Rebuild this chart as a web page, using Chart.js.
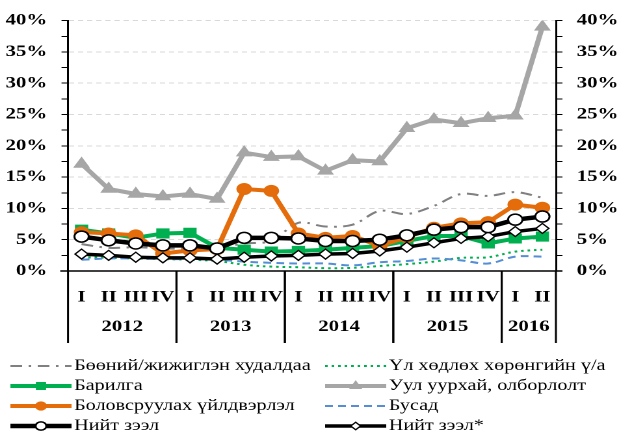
<!DOCTYPE html>
<html>
<head>
<meta charset="utf-8">
<script src="https://cdn.jsdelivr.net/npm/chart.js"></script>
<style>
  html, body { margin: 0; padding: 0; background: #fff; overflow: hidden; }
  /* the reference is stretched sideways, so the chart is drawn narrower and scaled */
  #wrap { width: 476px; height: 435px; transform: scaleX(1.3004); transform-origin: 0 0; }
</style>
</head>
<body>
<div id="wrap"><canvas id="chart"></canvas></div>
<script>
// Улирал, он
const quarters = ["I", "II", "III", "IV", "I", "II", "III", "IV", "I", "II", "III", "IV",
                  "I", "II", "III", "IV", "I", "II"];
const years = ["2012", "2013", "2014", "2015", "2016"];
const quartersPerYear = [4, 4, 4, 4, 2];

// Цувралууд (%)
const retail       = [4.3, 3.7, 3.8, 3.6, 3.6, 3.7, 4.4, 4.8, 7.7, 7.1, 7.4, 9.6, 9.1, 10.4, 12.3, 12.0, 12.6, 11.7];
const realEstate   = [2.2, 2.1, 2.0, 1.9, 1.8, 1.6, 1.0, 0.7, 0.6, 0.45, 0.5, 0.8, 1.1, 1.5, 2.1, 2.2, 3.1, 3.4];
const construction = [6.6, 6.0, 5.3, 6.0, 6.1, 3.7, 3.4, 3.1, 3.2, 3.4, 3.7, 4.0, 4.8, 5.6, 5.6, 4.4, 5.2, 5.5];
const mining       = [17.1, 13.1, 12.3, 11.9, 12.3, 11.5, 18.9, 18.2, 18.3, 16.0, 17.7, 17.5, 22.8, 24.2, 23.6, 24.4, 24.8, 39.0];
const manufacturing= [6.2, 6.0, 5.7, 2.8, 3.3, 3.5, 13.1, 12.8, 6.0, 5.3, 5.6, 4.0, 5.4, 6.9, 7.6, 7.8, 10.6, 10.1];
const other        = [1.8, 2.0, 2.0, 1.9, 1.9, 1.8, 1.5, 1.3, 1.2, 1.2, 0.9, 1.4, 1.6, 2.0, 1.7, 1.2, 2.3, 2.3];
const totalLoan    = [5.5, 4.9, 4.4, 4.1, 4.1, 3.6, 5.3, 5.3, 5.2, 4.8, 4.8, 5.0, 5.7, 6.6, 7.0, 7.0, 8.2, 8.7];
const totalLoanAdj = [2.7, 2.5, 2.2, 2.1, 2.1, 1.9, 2.2, 2.4, 2.5, 2.7, 2.8, 3.2, 3.8, 4.5, 5.2, 5.5, 6.3, 6.8];

const serif = '"Liberation Serif", "Times New Roman", serif';
Chart.defaults.font.family = serif;
Chart.defaults.color = "#000";

// Улирлын доор оны бүлэг, тусгаарлах шугам
const yearGroups = {
  id: "yearGroups",
  afterDraw(chart) {
    const { ctx, chartArea: a, scales: { x } } = chart;
    const half = (x.getPixelForValue(1) - x.getPixelForValue(0)) / 2;
    ctx.save();
    ctx.strokeStyle = "#000";
    ctx.lineWidth = 1.5;
    ctx.beginPath();
    ctx.moveTo(a.left - 6, a.bottom);
    ctx.lineTo(a.right + 5, a.bottom);
    ctx.stroke();
    ctx.font = "bold 16px " + serif;
    ctx.fillStyle = "#000";
    ctx.textAlign = "center";
    ctx.textBaseline = "middle";
    let start = 0;
    years.forEach((yr, i) => {
      const end = start + quartersPerYear[i] - 1;
      const l = x.getPixelForValue(start) - half;
      const r = x.getPixelForValue(end) + half;
      [l, r].forEach(px => {
        ctx.beginPath();
        ctx.moveTo(px, a.bottom);
        ctx.lineTo(px, a.bottom + 72);
        ctx.stroke();
      });
      ctx.fillText(yr, (l + r) / 2, a.bottom + 56);
      start = end + 1;
    });
    ctx.restore();
  }
};

// Хоёр баганатай тайлбар
const legendGrid = {
  id: "legendGrid",
  afterDraw(chart) {
    const ctx = chart.ctx;
    const colX = [8, 250];
    const rowY = [366, 386, 406, 426];
    chart.data.datasets.forEach((ds, i) => {
      const x0 = colX[i % 2];
      const y = rowY[Math.floor(i / 2)];
      const x1 = x0 + 47;
      ctx.save();
      ctx.strokeStyle = ds.borderColor;
      ctx.lineWidth = ds.borderWidth;
      ctx.setLineDash(ds.borderDash || []);
      ctx.beginPath();
      ctx.moveTo(x0, y);
      ctx.lineTo(x1, y);
      ctx.stroke();
      ctx.setLineDash([]);
      if (ds.pointRadius > 0) {
        ctx.fillStyle = ds.pointBackgroundColor;
        ctx.strokeStyle = ds.pointBorderColor;
        ctx.lineWidth = ds.pointBorderWidth;
        Chart.helpers.drawPoint(ctx, {
          pointStyle: ds.pointStyle,
          radius: ds.pointRadius * 0.75,
          rotation: 0,
          borderWidth: ds.pointBorderWidth
        }, (x0 + x1) / 2, y);
      }
      ctx.font = "15.5px " + serif;
      ctx.fillStyle = "#000";
      ctx.textAlign = "left";
      ctx.textBaseline = "middle";
      ctx.fillText(ds.label, x1 + 2, y);
      ctx.restore();
    });
  }
};

function marker(color, fill, style, radius, width) {
  return {
    pointStyle: style,
    pointRadius: radius,
    pointBackgroundColor: fill,
    pointBorderColor: color,
    pointBorderWidth: width,
    pointHoverRadius: radius
  };
}

const noMarker = { pointRadius: 0, pointHoverRadius: 0 };

const ctx = document.getElementById("chart").getContext("2d");
new Chart(ctx, {
  type: "line",
  data: {
    labels: quarters,
    datasets: [
      Object.assign({
        label: "Бөөний/жижиглэн худалдаа", data: retail, order: 7,
        borderColor: "#808080", borderWidth: 2, borderDash: [9, 5, 2, 5], tension: 0.35
      }, noMarker),
      Object.assign({
        label: "Үл хөдлөх хөрөнгийн ү/а", data: realEstate, order: 6,
        borderColor: "#00B050", borderWidth: 2, borderDash: [2, 3], tension: 0.35
      }, noMarker),
      Object.assign({
        label: "Барилга", data: construction, order: 3,
        borderColor: "#00B050", borderWidth: 4
      }, marker("#00B050", "#00B050", "rect", 6.5, 1)),
      Object.assign({
        label: "Уул уурхай, олборлолт", data: mining, order: 4,
        borderColor: "#A6A6A6", borderWidth: 4
      }, marker("#A6A6A6", "#A6A6A6", "triangle", 6.5, 1)),
      Object.assign({
        label: "Боловсруулах үйлдвэрлэл", data: manufacturing, order: 2,
        borderColor: "#E46C0A", borderWidth: 4
      }, marker("#E46C0A", "#E46C0A", "circle", 5.5, 1)),
      Object.assign({
        label: "Бусад", data: other, order: 5,
        borderColor: "#558ED5", borderWidth: 2, borderDash: [6, 4], tension: 0.35
      }, noMarker),
      Object.assign({
        label: "Нийт зээл", data: totalLoan, order: 0,
        borderColor: "#000", borderWidth: 4.5
      }, marker("#000", "#fff", "circle", 5.5, 1.5)),
      Object.assign({
        label: "Нийт зээл*", data: totalLoanAdj, order: 1,
        borderColor: "#000", borderWidth: 3.5
      }, marker("#000", "#fff", "rectRot", 5, 1.2))
    ]
  },
  options: {
    responsive: true,
    maintainAspectRatio: false,
    devicePixelRatio: 2,
    animation: false,
    layout: { padding: { top: 19, left: 0, right: 0, bottom: 0 } },
    plugins: {
      legend: { display: false },
      tooltip: { enabled: false }
    },
    scales: {
      x: {
        offset: true,
        grid: { display: false },
        border: { display: false },
        ticks: {
          font: { size: 16, weight: "bold" },
          padding: 9,
          maxRotation: 0,
          autoSkip: false
        },
        afterFit(s) { s.height = 164; }
      },
      y: {
        position: "left",
        min: 0, max: 40,
        grid: {
          color: c => (c.tick && c.tick.value > 0 && c.tick.value % 5 === 0) ? "#D9D9D9" : "rgba(0,0,0,0)",
          tickColor: "#000",
          tickLength: 5,
          lineWidth: 1
        },
        border: { display: true, color: "#000", width: 1.5, dash: [4, 3] },
        ticks: {
          stepSize: 2.5,
          autoSkip: false,
          padding: 11,
          font: { size: 16, weight: "bold" },
          callback: v => (v % 5 === 0 ? v + "%" : "")
        },
        afterFit(s) { s.width = 52.3; }
      },
      y2: {
        position: "right",
        min: 0, max: 40,
        grid: { drawOnChartArea: false, tickColor: "#000", tickLength: 5 },
        border: { display: true, color: "#000", width: 1.5 },
        ticks: {
          stepSize: 2.5,
          autoSkip: false,
          padding: 11,
          font: { size: 16, weight: "bold" },
          callback: v => (v % 5 === 0 ? v + "%" : "")
        },
        afterFit(s) { s.width = 48.5; }
      }
    }
  },
  plugins: [yearGroups, legendGrid]
});
</script>
</body>
</html>
